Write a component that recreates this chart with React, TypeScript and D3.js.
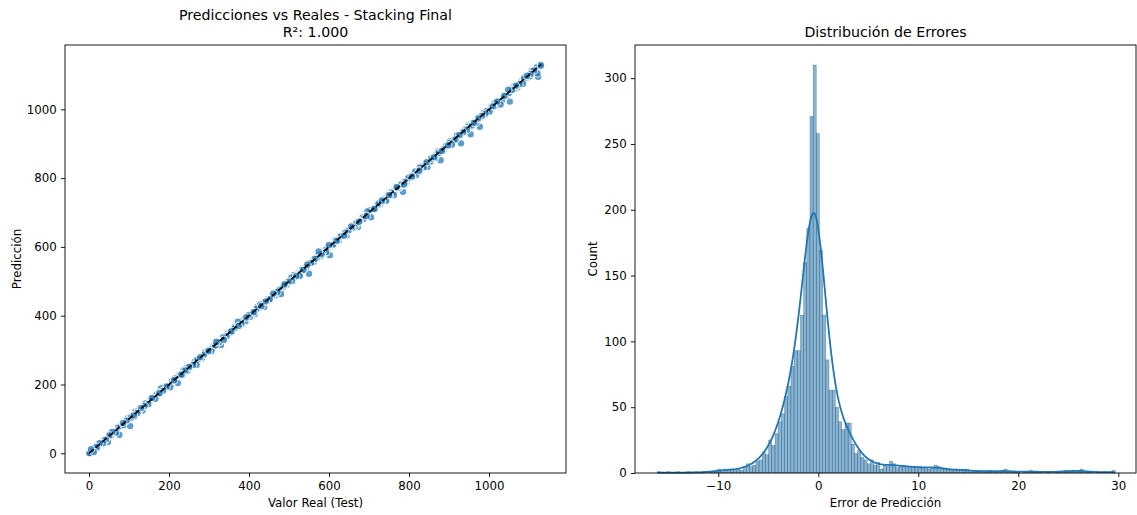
import React, { useRef, useEffect } from "react";
import * as d3 from "d3";

// scatter: real test values and their residuals (real - predicted)
const realValues = [
  0, 2, 5, 8, 12, 15, 19, 23, 26, 31,
  35, 38, 42, 47, 51, 55, 58, 63, 67, 72,
  76, 80, 85, 89, 94, 98, 103, 107, 112, 116,
  121, 125, 130, 134, 139, 143, 148, 153, 157, 162,
  166, 171, 176, 180, 185, 190, 194, 199, 203, 208,
  213, 218, 222, 227, 231, 236, 241, 246, 250, 255,
  260, 264, 269, 274, 278, 283, 288, 292, 297, 302,
  306, 311, 316, 320, 325, 330, 335, 339, 344, 349,
  353, 358, 363, 367, 372, 377, 381, 386, 391, 396,
  400, 405, 410, 414, 419, 424, 428, 433, 438, 442,
  447, 452, 457, 461, 466, 471, 475, 480, 485, 489,
  494, 499, 503, 508, 513, 518, 522, 527, 532, 536,
  541, 546, 550, 555, 560, 564, 569, 574, 579, 583,
  588, 593, 597, 602, 607, 611, 616, 621, 625, 630,
  635, 640, 644, 649, 654, 658, 663, 668, 672, 677,
  682, 686, 691, 696, 701, 705, 710, 715, 719, 724,
  729, 733, 738, 743, 747, 752, 757, 762, 766, 771,
  776, 780, 785, 790, 794, 799, 804, 808, 813, 818,
  823, 827, 832, 837, 841, 846, 851, 855, 860, 865,
  869, 874, 879, 884, 888, 893, 898, 902, 907, 912,
  916, 921, 926, 930, 935, 940, 945, 949, 954, 959,
  963, 968, 973, 977, 982, 987, 991, 996, 1001, 1006,
  1010, 1015, 1020, 1024, 1029, 1034, 1038, 1043, 1048, 1052,
  1057, 1062, 1067, 1071, 1076, 1081, 1085, 1090, 1095, 1099,
  1104, 1108, 1112, 1117, 1121, 1126, 1130, 1094, 1102, 1115,
  1088, 1110, 1123, 1106, 1097, 4, 10, 17, 1, 28,
];

const residuals = [
  -1.2, 3.5, -6.8, 1.4, 8.2, -2.1, 0.6, 4.3, -3.0, 1.8,
  5.6, -1.5, 2.2, 14.0, -0.8, 3.1, -4.2, 1.0, 6.5, -2.4,
  22.0, 0.9, -3.3, 2.7, -1.1, 4.0, 24.0, -0.5, 1.9, -5.0,
  3.6, 0.4, -2.0, 9.5, 1.2, -1.8, 5.1, 0.3, -3.9, 2.5,
  7.8, -1.0, 0.7, -8.5, 3.4, 1.6, -0.4, 2.9, 11.0, -2.6,
  0.8, 4.7, 18.0, -1.3, 2.0, -4.5, 0.2, 6.1, -0.9, 1.5,
  3.0, -2.2, 12.5, 0.5, -1.6, 4.4, 1.1, -3.5, 2.3, 0.0,
  8.9, -0.7, 2.6, -6.0, 1.3, 15.5, -1.9, 0.6, 3.8, -2.8,
  1.7, 5.3, -0.3, 2.1, -10.5, 0.9, 4.9, -1.4, 7.0, 1.0,
  -2.3, 3.2, 0.4, 9.8, -1.0, 2.4, -4.8, 1.5, 13.0, 0.2,
  -1.7, 3.9, 0.8, -3.1, 6.7, 1.2, -0.6, 17.0, 2.0, -2.5,
  4.1, -0.2, 1.6, 7.4, -5.5, 2.8, 0.1, 11.5, -1.2, 3.3,
  0.7, -2.9, 28.0, 1.4, 4.6, -0.8, 2.2, -13.0, 5.8, 0.3,
  1.9, 8.0, -1.5, 26.0, 0.6, 3.5, -3.6, 1.0, 6.3, -0.4,
  2.7, -1.1, 10.5, 0.9, -4.0, 3.0, 1.8, -0.6, 14.5, 2.1,
  -2.0, 5.0, 0.5, -7.2, 1.7, 19.0, -0.9, 3.7, 0.2, -2.7,
  4.5, 1.3, -1.8, 8.6, 0.4, 2.9, -3.2, 12.0, 1.1, -0.5,
  3.4, -1.3, 25.0, 0.8, 6.0, -2.4, 1.6, 4.2, -0.7, 9.0,
  2.0, -3.8, 1.2, 5.7, -0.1, 13.5, 2.6, -1.6, 0.9, 7.3,
  -2.2, 1.5, 27.0, 0.3, 4.8, -1.0, 2.4, -5.2, 10.0, 1.7,
  3.9, -0.8, 0.6, 29.0, 1.9, -2.5, 4.4, 0.2, 26.5, -1.4,
  2.1, 6.9, -0.3, 27.5, 1.0, -3.4, 3.6, 0.8, 8.4, -1.7,
  1.4, 5.2, -2.1, 0.5, 15.0, 2.7, -0.9, 4.0, -9.0, 29.5,
  0.6, 3.1, -1.5, 7.6, 2.2, -0.4, 11.0, 1.3, -2.8, 4.7,
  0.9, 6.2, -1.2, 3.8, 16.0, 0.4, 2.5, -3.0, 5.5, 1.1,
  -2.6, 9.5, 28.5, 0.7, 4.1, -3.2, 2.0, -1.9, 0.5, 3.6,
];

// more test points lying on the diagonal band
const realValuesB = [
  3, 11, 20, 29, 37, 45, 53, 61, 69, 78,
  87, 96, 105, 114, 123, 132, 141, 150, 159, 168,
  178, 187, 196, 205, 215, 224, 233, 243, 252, 262,
  271, 280, 290, 299, 309, 318, 327, 337, 346, 356,
  365, 374, 384, 393, 403, 412, 421, 431, 440, 450,
  459, 468, 478, 487, 497, 506, 515, 525, 534, 544,
  553, 562, 572, 581, 591, 600, 609, 619, 628, 638,
  647, 656, 666, 675, 685, 694, 703, 713, 722, 732,
  741, 750, 760, 769, 779, 788, 797, 807, 816, 826,
  835, 844, 854, 863, 873, 882, 891, 901, 910, 920,
  929, 938, 948, 957, 967, 976, 985, 995, 1004, 1014,
  1023, 1032, 1042, 1051, 1061, 1070, 1079, 1089, 1098, 1107,
  1113, 1119, 1124, 1128, 1092, 1101, 1111, 1118, 1125, 1086,
];

const residualsB = [
  2.4, -3.1, 5.2, -1.0, 0.6, 6.8, -4.4, 1.9, 3.3, -2.0,
  4.6, -5.3, 1.1, 7.2, -0.9, 2.8, -3.7, 5.5, 0.3, -1.6,
  3.9, -6.1, 2.2, 4.8, -2.7, 0.7, 6.0, -4.9, 1.5, 3.1,
  -1.3, 5.9, -3.0, 0.8, 4.2, -5.6, 2.6, 7.5, -1.8, 1.0,
  -4.1, 3.6, 0.5, -2.3, 6.4, 1.7, -5.0, 2.9, -0.6, 4.4,
  -3.4, 1.2, 5.7, -1.1, 0.4, -4.6, 3.0, 6.6, -2.1, 1.6,
  -0.7, 4.9, -3.8, 2.3, 0.9, -5.8, 3.7, 1.4, -2.6, 5.1,
  0.2, -3.3, 6.2, 1.8, -1.4, 4.0, -4.7, 2.5, 0.6, -2.9,
  5.4, -1.2, 3.2, -5.4, 1.3, 6.9, -0.8, 2.0, -3.6, 4.5,
  0.1, -2.4, 5.8, 1.9, -4.3, 3.4, 0.7, -1.5, 6.3, -3.9,
  2.7, 0.3, -5.1, 4.1, 1.5, -2.2, 3.8, -0.4, 5.0, -3.5,
  1.6, 6.5, -1.9, 2.9, -4.0, 0.8, 4.7, -2.8, 3.5, -5.2,
  1.0, -3.0, 4.3, -1.6, 2.4, 6.1, -4.2, 0.9, -2.5, 3.1,
];

// histogram of prediction errors (equal bins)
const binStart = -16.1;
const binWidth = 0.318;
const errorCounts = [
  1, 0, 0, 1, 0, 0, 1, 0, 0, 1,
  0, 0, 1, 0, 1, 0, 1, 1, 1, 3,
  2, 3, 2, 3, 2, 3, 2, 4, 7, 5,
  6, 9, 10, 16, 14, 25, 21, 30, 39, 45,
  58, 66, 81, 93, 93, 120, 160, 186, 271, 310,
  258, 169, 120, 86, 63, 63, 50, 39, 33, 38,
  38, 22, 15, 17, 12, 10, 7, 10, 6, 8,
  3, 6, 5, 9, 7, 4, 5, 6, 5, 4,
  5, 4, 5, 4, 4, 3, 4, 6, 5, 4,
  3, 2, 2, 2, 3, 2, 3, 3, 1, 1,
  1, 2, 1, 1, 2, 1, 1, 1, 2, 3,
  1, 1, 1, 1, 0, 1, 1, 2, 1, 1,
  1, 0, 1, 1, 0, 1, 1, 1, 2, 1,
  2, 1, 2, 3, 1, 1, 1, 0, 1, 0,
  1, 0, 1, 2,
];

const scatterXTicks = [0, 200, 400, 600, 800, 1000];
const scatterYTicks = [0, 200, 400, 600, 800, 1000];
const histXTicks = [-10, 0, 10, 20, 30];
const histYTicks = [0, 50, 100, 150, 200, 250, 300];

const W = 1137;
const H = 515;
const FONT = "DejaVu Sans, sans-serif";
const BLUE = "#1f77b4";
const TICK_FS = 11.8;
const TITLE_FS = 14.2;

const App = () => {
  const ref = useRef<SVGSVGElement>(null);

  useEffect(() => {
    const svg = d3.select(ref.current);
    svg.selectAll("*").remove();
    svg.append("rect").attr("width", W).attr("height", H).attr("fill", "white");

    const styleAxis = (g) => {
      g.select(".domain").remove();
      g.attr("font-family", FONT).attr("font-size", TICK_FS);
      g.selectAll("text").attr("fill", "#000");
      g.selectAll("line").attr("stroke", "#000").attr("stroke-width", 0.9);
    };

    // ---------- left: predictions vs real ----------
    const L = { left: 65, right: 566, top: 45, bottom: 473 };
    const x1 = d3.scaleLinear().domain([-60, 1192.5]).range([L.left, L.right]);
    const y1 = d3.scaleLinear().domain([-57.3, 1187]).range([L.bottom, L.top]);

    const ptsA = realValues.map((r, i) => ({ real: r, pred: r - (residuals[i] ?? 0) }));
    const ptsB = realValuesB.map((r, i) => ({ real: r, pred: r - (residualsB[i] ?? 0) }));
    const all = ptsA.concat(ptsB);
    // test rows are not sorted, so draw them in a scrambled order
    const order = all.map((_, i) => (i * 97) % all.length);
    const pts = order.map((j) => all[j]);

    svg
      .append("g")
      .selectAll("circle")
      .data(pts)
      .enter()
      .append("circle")
      .attr("cx", (d) => x1(d.real))
      .attr("cy", (d) => y1(d.pred))
      .attr("r", 3.8)
      .attr("fill", BLUE)
      .attr("stroke", "white")
      .attr("stroke-width", 1.2)
      .attr("opacity", 0.72);

    const lo = d3.min(realValues);
    const hi = d3.max(realValues);
    svg
      .append("line")
      .attr("x1", x1(lo))
      .attr("y1", y1(lo))
      .attr("x2", x1(hi))
      .attr("y2", y1(hi))
      .attr("stroke", "#000")
      .attr("stroke-width", 1.7)
      .attr("stroke-dasharray", "6,2.6");

    svg
      .append("g")
      .attr("transform", `translate(0,${L.bottom})`)
      .call(d3.axisBottom(x1).tickValues(scatterXTicks).tickFormat(d3.format("d")).tickSize(4.1).tickPadding(4.3).tickSizeOuter(0))
      .call(styleAxis);
    svg
      .append("g")
      .attr("transform", `translate(${L.left},0)`)
      .call(d3.axisLeft(y1).tickValues(scatterYTicks).tickFormat(d3.format("d")).tickSize(4.1).tickPadding(4.1).tickSizeOuter(0))
      .call(styleAxis);

    svg
      .append("rect")
      .attr("x", L.left)
      .attr("y", L.top)
      .attr("width", L.right - L.left)
      .attr("height", L.bottom - L.top)
      .attr("fill", "none")
      .attr("stroke", "#000")
      .attr("stroke-width", 0.9);

    const cx1 = (L.left + L.right) / 2;
    svg.append("text").attr("x", cx1).attr("y", 20).attr("text-anchor", "middle")
      .attr("font-family", FONT).attr("font-size", TITLE_FS).text("Predicciones vs Reales - Stacking Final");
    svg.append("text").attr("x", cx1).attr("y", 37).attr("text-anchor", "middle")
      .attr("font-family", FONT).attr("font-size", TITLE_FS).text("R²: 1.000");
    svg.append("text").attr("x", cx1).attr("y", 507).attr("text-anchor", "middle")
      .attr("font-family", FONT).attr("font-size", TICK_FS).text("Valor Real (Test)");
    svg.append("text").attr("transform", `translate(21,${(L.top + L.bottom) / 2}) rotate(-90)`)
      .attr("text-anchor", "middle").attr("font-family", FONT).attr("font-size", TICK_FS).text("Predicción");

    // ---------- right: error distribution ----------
    const R = { left: 635, right: 1136, top: 45, bottom: 473 };
    const x2 = d3.scaleLinear().domain([-18.33, 31.77]).range([R.left, R.right]);
    const y2 = d3.scaleLinear().domain([0, 325.2]).range([R.bottom, R.top]);

    const bins = errorCounts.map((c, i) => ({ x0: binStart + i * binWidth, x1: binStart + (i + 1) * binWidth, c }));
    svg
      .append("g")
      .selectAll("rect")
      .data(bins)
      .enter()
      .append("rect")
      .attr("x", (d) => x2(d.x0))
      .attr("y", (d) => y2(d.c))
      .attr("width", (d) => x2(d.x1) - x2(d.x0))
      .attr("height", (d) => y2(0) - y2(d.c))
      .attr("fill", BLUE)
      .attr("fill-opacity", 0.55)
      .attr("stroke", "#000")
      .attr("stroke-opacity", 0.35)
      .attr("stroke-width", 0.5);

    // gaussian kde (Scott's rule) over the binned errors, scaled to counts
    const centers = errorCounts.map((_, i) => binStart + binWidth * (i + 0.5));
    const n = d3.sum(errorCounts);
    const mean = d3.sum(centers, (c, i) => c * errorCounts[i]) / n;
    const variance = d3.sum(centers, (c, i) => errorCounts[i] * (c - mean) ** 2) / (n - 1);
    const bw = Math.sqrt(variance) * Math.pow(n, -1 / 5);
    const kLo = binStart;
    const kHi = binStart + binWidth * errorCounts.length;
    const grid = d3.range(0, 301).map((i) => kLo + ((kHi - kLo) * i) / 300);
    const kde = grid.map((x) => {
      const dens = d3.sum(centers, (c, i) => errorCounts[i] * Math.exp(-0.5 * ((x - c) / bw) ** 2)) / (bw * Math.sqrt(2 * Math.PI));
      return [x, dens * binWidth];
    });
    svg
      .append("path")
      .attr("d", d3.line().x((d) => x2(d[0])).y((d) => y2(d[1]))(kde))
      .attr("fill", "none")
      .attr("stroke", BLUE)
      .attr("stroke-width", 1.8);

    svg
      .append("g")
      .attr("transform", `translate(0,${R.bottom})`)
      .call(d3.axisBottom(x2).tickValues(histXTicks).tickFormat(d3.format("d")).tickSize(4.1).tickPadding(4.3).tickSizeOuter(0))
      .call(styleAxis);
    svg
      .append("g")
      .attr("transform", `translate(${R.left},0)`)
      .call(d3.axisLeft(y2).tickValues(histYTicks).tickFormat(d3.format("d")).tickSize(4.1).tickPadding(4.1).tickSizeOuter(0))
      .call(styleAxis);

    svg
      .append("rect")
      .attr("x", R.left)
      .attr("y", R.top)
      .attr("width", R.right - R.left)
      .attr("height", R.bottom - R.top)
      .attr("fill", "none")
      .attr("stroke", "#000")
      .attr("stroke-width", 0.9);

    const cx2 = (R.left + R.right) / 2;
    svg.append("text").attr("x", cx2).attr("y", 37).attr("text-anchor", "middle")
      .attr("font-family", FONT).attr("font-size", TITLE_FS).text("Distribución de Errores");
    svg.append("text").attr("x", cx2).attr("y", 507).attr("text-anchor", "middle")
      .attr("font-family", FONT).attr("font-size", TICK_FS).text("Error de Predicción");
    svg.append("text").attr("transform", `translate(597,${(R.top + R.bottom) / 2}) rotate(-90)`)
      .attr("text-anchor", "middle").attr("font-family", FONT).attr("font-size", TICK_FS).text("Count");
  }, []);

  return <svg ref={ref} width={W} height={H} style={{ position: "absolute", left: 0, top: 0 }}></svg>;
};

export default App;
